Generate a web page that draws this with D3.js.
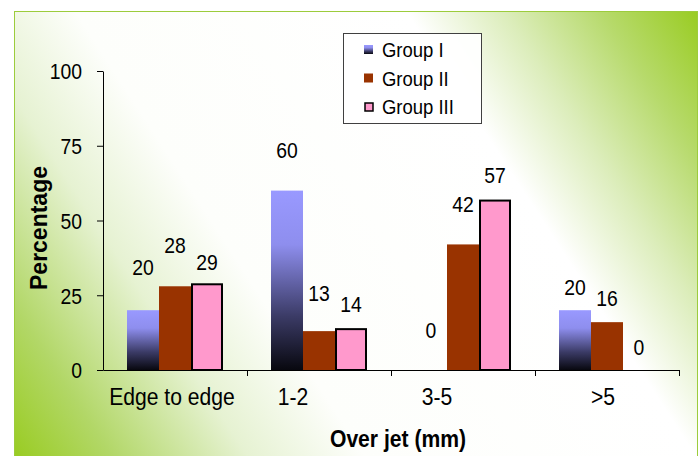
<!DOCTYPE html>
<html>
<head>
<meta charset="utf-8">
<script src="https://cdn.jsdelivr.net/npm/d3@7"></script>
<style>
  body { margin: 0; background: #fff; }
  svg { display: block; font-family: "Liberation Sans", Arial, sans-serif; }
</style>
</head>
<body>
<svg id="chart"></svg>
<script>
const categories = ['Edge to edge', '1-2', '3-5', '>5']
const groups = ['Group I', 'Group II', 'Group III']
const group1 = [20, 60, 0, 20]
const group2 = [28, 13, 42, 16]
const group3 = [29, 14, 57, 0]
const yTicks = [0, 25, 50, 75, 100]
// how far each value label sits above its bar (labels were hand placed)
const labelLift = [[43, 41, 40, 23], [41, 38, 40, 24], [21, 24, 25, 23]]
// category labels are not quite centred in the original
const catShift = [-3, -26, -26, -4]

buildChart()

function buildChart() {

    const width = 698
    const height = 456
    const squeeze = 0.88
    const series = [group1, group2, group3]

    const svg = d3.select('#chart')
        .attr('width', width)
        .attr('height', height)

    const defs = svg.append('defs')

    const bg = defs.append('linearGradient')
        .attr('id', 'bg')
        .attr('gradientUnits', 'userSpaceOnUse')
        .attr('x1', 14).attr('y1', 456)
        .attr('x2', 698).attr('y2', 11)
    const bgStops = [
        [0, '#99cc22'], [0.1, '#b2d767'], [0.24, '#e6f2d2'], [0.36, '#fdfefb'],
        [0.7, '#ffffff'], [0.8, '#dcedbb'], [0.9, '#b7da6c'], [1, '#99cc22']
    ]
    bgStops.forEach(s => bg.append('stop').attr('offset', s[0]).attr('stop-color', s[1]))

    const g1 = defs.append('linearGradient')
        .attr('id', 'g1')
        .attr('x1', 0).attr('y1', 0)
        .attr('x2', 0).attr('y2', 1)
    g1.append('stop').attr('offset', 0).attr('stop-color', '#9999ff')
    g1.append('stop').attr('offset', 0.3).attr('stop-color', '#8e8eee')
    g1.append('stop').attr('offset', 0.7).attr('stop-color', '#3b3b66')
    g1.append('stop').attr('offset', 1).attr('stop-color', '#08080f')

    const fills = ['url(#g1)', '#993300', '#ff99cc']
    const strokes = ['none', 'none', '#000']

    svg.append('rect')
        .attr('x', 14.5).attr('y', 11.5)
        .attr('width', 683).attr('height', 450)
        .style('fill', 'url(#bg)')
        .style('stroke', '#9ccc3c')

    const x0 = d3.scaleBand()
        .domain(categories)
        .range([103, 679])

    const x1 = d3.scaleBand()
        .domain(groups)
        .range([x0.bandwidth() / 6, x0.bandwidth() * 5 / 6])

    const y = d3.scaleLinear()
        .domain([0, 100])
        .range([370, 71])

    const edges = d3.scaleLinear()
        .domain([0, categories.length])
        .range([103, 679])

    // bars
    groups.forEach((grp, gi) => {
        svg.append('g')
            .selectAll('rect')
            .data(series[gi])
            .join('rect')
            .attr('x', (d, i) => x0(categories[i]) + x1(grp) + (gi == 2 ? 1 : 0))
            .attr('y', d => y(d) + (gi == 2 ? 1 : 0))
            .attr('width', x1.bandwidth() - (gi == 2 ? 2 : 0))
            .attr('height', d => Math.max(0, y(0) - y(d) - (gi == 2 ? 1 : 0)))
            .style('fill', fills[gi])
            .style('stroke', strokes[gi])
            .style('stroke-width', 2)
            .style('display', d => d > 0 ? null : 'none')
    })

    // axes
    const yAxis = svg.append('g')
        .attr('transform', 'translate(103,0)')
        .call(d3.axisLeft(y).tickValues(yTicks).tickSize(6).tickSizeOuter(0))
    yAxis.select('.domain').style('stroke', '#000')
    yAxis.selectAll('line').style('stroke', '#000')
    yAxis.selectAll('text')
        .attr('x', null).attr('dy', null)
        .attr('transform', `translate(-21,0) scale(${squeeze},1)`)
        .attr('dominant-baseline', 'central')
        .style('font-size', '22px')
        .style('font-family', '"Liberation Sans", Arial, sans-serif')
        .style('fill', '#000')

    const xAxis = svg.append('g')
        .attr('transform', 'translate(0,370)')
        .call(d3.axisBottom(edges).tickValues(d3.range(1, categories.length + 1))
            .tickSize(6).tickSizeOuter(0).tickFormat(''))
    xAxis.select('.domain').style('stroke', '#000')
    xAxis.selectAll('line').style('stroke', '#000')

    const squeezed = (sel, px, py) => sel.attr('transform', (d, i) =>
        `translate(${px(d, i)},${py(d, i)}) scale(${squeeze},1)`)

    // category labels
    svg.append('g')
        .selectAll('text')
        .data(categories)
        .join('text')
        .call(squeezed, (d, i) => x0(d) + x0.bandwidth() / 2 + catShift[i], () => 397)
        .attr('text-anchor', 'middle')
        .attr('dominant-baseline', 'central')
        .style('font-size', '24px')
        .text(d => d)

    // value labels
    groups.forEach((grp, gi) => {
        svg.append('g')
            .selectAll('text')
            .data(series[gi])
            .join('text')
            .call(squeezed,
                (d, i) => x0(categories[i]) + x1(grp) + x1.bandwidth() / 2,
                (d, i) => y(d) - labelLift[gi][i])
            .attr('text-anchor', 'middle')
            .attr('dominant-baseline', 'central')
            .style('font-size', '22px')
            .text(d => d)
    })

    // titles
    svg.append('text')
        .attr('transform', 'translate(39,228) rotate(-90)')
        .attr('text-anchor', 'middle')
        .attr('dominant-baseline', 'central')
        .style('font-size', '23px')
        .style('font-weight', 'bold')
        .text('Percentage')

    svg.append('text')
        .attr('transform', `translate(398,439) scale(${squeeze},1)`)
        .attr('text-anchor', 'middle')
        .attr('dominant-baseline', 'central')
        .style('font-size', '24px')
        .style('font-weight', 'bold')
        .text('Over jet (mm)')

    // legend
    const legend = svg.append('g')
    legend.append('rect')
        .attr('x', 343.5).attr('y', 33.5)
        .attr('width', 138).attr('height', 90)
        .style('fill', '#fff')
        .style('fill-opacity', 0.92)
        .style('stroke', '#404040')

    const rows = legend.selectAll('g.row')
        .data(groups)
        .join('g')
        .attr('class', 'row')
        .attr('transform', (d, i) => `translate(0,${50 + i * 28.5})`)

    rows.append('rect')
        .attr('x', (d, i) => i == 2 ? 365 : 364)
        .attr('y', (d, i) => i == 2 ? -4 : -5)
        .attr('width', (d, i) => i == 2 ? 8 : 9)
        .attr('height', (d, i) => i == 2 ? 8 : 9)
        .style('fill', (d, i) => fills[i])
        .style('stroke', (d, i) => strokes[i])
        .style('stroke-width', 1.5)

    rows.append('text')
        .attr('transform', `translate(382,0) scale(${squeeze},1)`)
        .attr('dominant-baseline', 'central')
        .style('font-size', '21px')
        .text(d => d)
}
</script>
</body>
</html>
